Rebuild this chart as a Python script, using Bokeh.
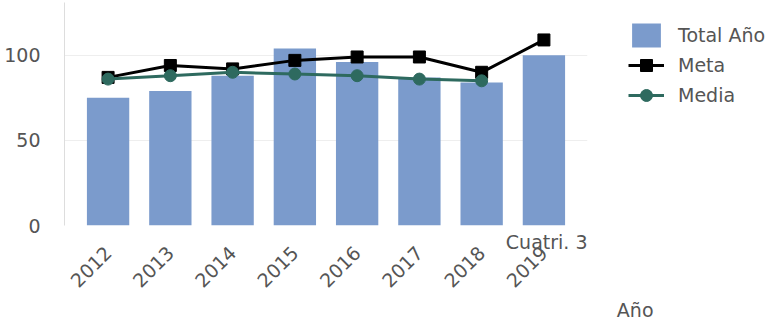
from bokeh.plotting import figure
from bokeh.models import FactorRange, Range1d, Legend, LegendItem, Title, FixedTicker
from bokeh.embed import file_html
from bokeh.resources import INLINE
import math

years = ["2012", "2013", "2014", "2015", "2016", "2017", "2018", "2019"]
total_anio = [75, 79, 88, 104, 96, 87, 84, 100]
meta_years = ["2012", "2013", "2014", "2015", "2016", "2017", "2018", "2019"]
meta = [87, 94, 92, 97, 99, 99, 90, 109]
media_years = ["2012", "2013", "2014", "2015", "2016", "2017", "2018"]
media = [86, 88, 90, 89, 88, 86, 85]

FONT = "DejaVu Sans"
TXT = "#555555"
FS = "19px"

p = figure(frame_width=523, frame_height=223, output_backend="svg", toolbar_location=None,
           x_range=FactorRange(*years, range_padding=0.2, range_padding_units="absolute"),
           y_range=Range1d(0, 131),
           min_border_left=64, min_border_top=2, min_border_right=0, min_border_bottom=0)
p.outline_line_color = None
p.background_fill_color = "white"

bars = p.vbar(x=years, top=total_anio, width=0.68, color="#7b9bcc", line_color=None)
l1 = p.line(meta_years, meta, line_color="black", line_width=3)
m1 = p.scatter(meta_years, meta, marker="square", size=12, color="black")
l2 = p.line(media_years, media, line_color="#2e6a5f", line_width=3)
m2 = p.scatter(media_years, media, marker="circle", size=12, color="#2e6a5f")

p.xgrid.grid_line_color = None
p.ygrid.grid_line_color = "#eeeeee"
p.yaxis.ticker = FixedTicker(ticks=[0, 50, 100])
p.yaxis.axis_line_color = "#dddddd"
p.yaxis.major_tick_line_color = None
p.yaxis.minor_tick_line_color = None
p.yaxis.major_label_standoff = 18
p.xaxis.axis_line_color = None
p.xaxis.major_tick_line_color = None
p.xaxis.major_label_orientation = math.pi / 4
p.xaxis.major_label_standoff = -12
for ax in (p.xaxis, p.yaxis):
    ax.major_label_text_font = FONT
    ax.major_label_text_font_size = FS
    ax.major_label_text_color = TXT

legend = Legend(items=[LegendItem(label="Total Año", renderers=[bars]),
                       LegendItem(label="Meta", renderers=[l1, m1]),
                       LegendItem(label="Media", renderers=[l2, m2])],
                location=(41, 115), border_line_color=None, background_fill_alpha=0,
                label_text_font=FONT, label_text_font_size=FS, label_text_color=TXT,
                glyph_width=36, glyph_height=30, spacing=0, padding=0, margin=0,
                label_standoff=14)
p.add_layout(legend, "right")

t_cuatri = Title(text="Cuatri. 3", align="right", offset=0, standoff=6,
                 text_font=FONT, text_font_size=FS, text_color=TXT, text_font_style="normal")
t_anio = Title(text="Año", align="right", offset=-66, standoff=0,
               text_font=FONT, text_font_size=FS, text_color=TXT, text_font_style="normal")
xax = p.xaxis[0]
p.below = [t_cuatri, xax, t_anio]

open("out.html", "w").write(file_html(p, INLINE))
